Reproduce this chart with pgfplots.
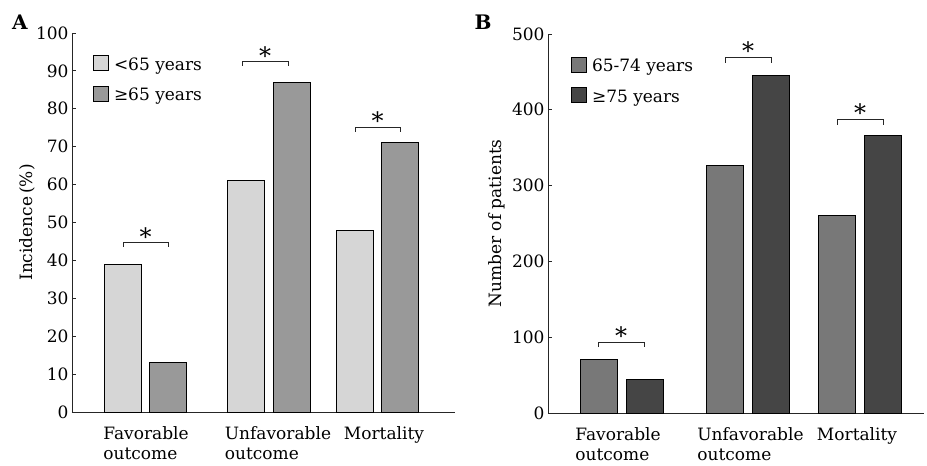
\documentclass[border=0pt]{standalone}
\usepackage{fontspec}
\setmainfont{DejaVu Serif}
\usepackage{pgfplots}
\pgfplotsset{compat=1.18}
\newcommand{\ft}{\fontsize{17}{20}\selectfont}
\pgfplotsset{
  mystyle/.style={
    scale only axis,
    axis x line=bottom, axis y line=left,
    axis line style={-, line width=0.8pt, black!85},
    tick align=inside,
    major tick length=4pt,
    ytick pos=left,
    xtick style={draw=none},
    ytick style={line width=0.8pt, black!85},
    ymin=0,
    /pgf/number format/assume math mode=true,
    tick label style={font=\ft},
    xticklabel style={align=left, font=\ft, yshift=-11pt},
    label style={font=\ft},
    legend cell align=left,
    legend style={draw=none, fill=none, font=\ft, row sep=12pt, inner sep=0pt,
      nodes={inner xsep=5pt}},
    clip=false,
  },
  mybar/.style={ybar, bar width=37, bar shift=0pt, draw=black, line width=0.9pt, fill=#1,
    legend image code/.code={\draw[##1, line width=0.8pt] (0pt,-6pt) rectangle (15pt,9pt);}},
  brk/.style={black!85, line width=0.8pt, forget plot, sharp plot, mark=none},
}
\newcommand{\astr}{\fontsize{24}{24}\selectfont *}
\begin{document}
\begin{tikzpicture}[x=1pt,y=1pt]
\path[use as bounding box] (0,0) rectangle (927,466);
% ---------- Panel A ----------
\begin{axis}[mystyle,
  at={(72pt,54pt)}, anchor=south west,
  width=383pt, height=379pt,
  xmin=72, xmax=455, ymax=100,
  ytick={0,10,...,100},
  xtick={146,278,384},
  xticklabels={{Favorable\\outcome},{Unfavorable\\outcome},{Mortality}},
  ylabel={Incidence\,(\%)},
  ylabel shift=-6pt,
  legend style={at={(axis cs:93,94.2)}, anchor=north west},
]
\addplot[mybar=black!16] coordinates {(122.5,39) (246,61) (354.5,48)};
\addlegendentry{<65 years}
\addplot[mybar=black!40] coordinates {(168,13) (292,87) (400,71)};
\addlegendentry{≥65 years}
\addplot[brk] coordinates {(123,43.6) (123,44.8) (168,44.8) (168,43.6)};
\addplot[brk] coordinates {(242,91.4) (242,92.6) (288,92.6) (288,91.4)};
\addplot[brk] coordinates {(355,74.0) (355,75.2) (400,75.2) (400,74.0)};
\node[anchor=base, yshift=-3pt] at (axis cs:145.5,44.8) {\astr};
\node[anchor=base, yshift=-3pt] at (axis cs:265,92.6) {\astr};
\node[anchor=base, yshift=-3pt] at (axis cs:377.5,75.2) {\astr};
\end{axis}
% ---------- Panel B ----------
\begin{axis}[mystyle,
  at={(548pt,53pt)}, anchor=south west,
  width=376pt, height=379pt,
  xmin=548, xmax=924, ymax=500,
  ytick={0,100,...,500},
  xtick={618,750.5,857},
  xticklabels={{Favorable\\outcome},{Unfavorable\\outcome},{Mortality}},
  ylabel={Number of patients},
  legend style={at={(axis cs:571,470)}, anchor=north west},
]
\addplot[mybar=black!53] coordinates {(598.5,71) (725,327) (837,260)};
\addlegendentry{65-74 years}
\addplot[mybar=black!73] coordinates {(644.5,44) (770.5,445) (883,366)};
\addlegendentry{≥75 years}
\addplot[brk] coordinates {(598,87) (598,93.7) (644,93.7) (644,87)};
\addplot[brk] coordinates {(725,462) (725,469.7) (771,469.7) (771,462)};
\addplot[brk] coordinates {(837,380) (837,387.9) (883,387.9) (883,380)};
\node[anchor=base, yshift=-3pt] at (axis cs:621,93.7) {\astr};
\node[anchor=base, yshift=-3pt] at (axis cs:748,469.7) {\astr};
\node[anchor=base, yshift=-3pt] at (axis cs:860,387.9) {\astr};
\end{axis}
\node[font=\bfseries\fontsize{20}{20}\selectfont] at (20,444) {A};
\node[font=\bfseries\fontsize{20}{20}\selectfont] at (483,444) {B};
\end{tikzpicture}
\end{document}
